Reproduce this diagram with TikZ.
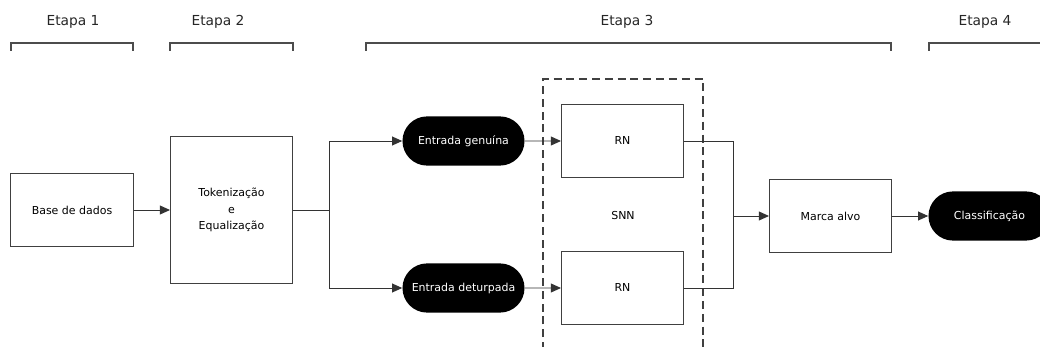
\documentclass[tikz,border=0pt]{standalone}
\usepackage{fontspec}
\setmainfont{DejaVu Sans}
\usepackage{tikz}
\usetikzlibrary{positioning,arrows.meta,shapes.misc}

\begin{document}
\begin{tikzpicture}[x=0.025cm, y=-0.025cm,
  blockbox/.style = {draw = black!75, line width = 0.7pt, shape = rectangle, minimum width = 3.05cm, minimum height = 1.83cm, inner sep = 0pt, font = \fontsize{7.8}{12}\selectfont},
  pillbox/.style = {fill = black, text = white, shape = rounded rectangle, minimum width = 3.05cm, minimum height = 1.23cm, inner sep = 0pt, font = \fontsize{7.8}{12}\selectfont},
  stagelabel/.style = {font = \fontsize{9.8}{11}\selectfont, text = black!85},
  stagebrace/.style = {draw = black!70, line width = 0.9pt},
  flow/.style = {draw = black!80, line width = 0.7pt},
  flowarrow/.style = {flow, -{Triangle[length = 0.25cm, width = 0.22cm]}}]
\useasboundingbox (0,0) rectangle (1040,347);

% etapas
\node[stagelabel] (e1) at (73,22) {Etapa 1};
\node[stagelabel] (e2) at (218,22) {Etapa 2};
\node[stagelabel] (e3) at (627,22) {Etapa 3};
\node[stagelabel] (e4) at (985,22) {Etapa 4};
\draw[stagebrace] (11,51) -- (11,43) -- (133,43) -- (133,51);
\draw[stagebrace] (170,51) -- (170,43) -- (293,43) -- (293,51);
\draw[stagebrace] (366,51) -- (366,43) -- (891,43) -- (891,51);
\draw[stagebrace] (929,51) -- (929,43) -- (1045,43);

% blocos
\node[blockbox] (1) at (72,210) {Base de dados};
\node[blockbox, minimum height = 3.65cm, align = center] (2) at (231.5,210) {Tokenização\\e\\Equalização};
\node[pillbox] (3) at (463.5,141) {Entrada genuína};
\node[pillbox] (4) at (463.5,288) {Entrada deturpada};
\node[blockbox] (5) at (622.5,141) {RN};
\node[blockbox] (6) at (622.5,288) {RN};
\node[blockbox] (7) at (830.5,216) {Marca alvo};
\node[pillbox] (8) at (989.5,216) {Classificação};

% SNN
\draw[dashed, dash pattern = on 0.2cm off 0.12cm, line width = 1.1pt, draw = black!75] (543,350) -- (543,79) -- (703,79) -- (703,350);
\node[font = \fontsize{7.8}{12}\selectfont] (snn) at (623,216) {SNN};

% ligacoes
\coordinate (j1) at (329,210);
\coordinate (j2) at (733,216);
\draw[flowarrow] (1) -- (2);
\draw[flow] (2) -- (j1);
\draw[flowarrow] (j1) |- (3);
\draw[flowarrow] (j1) |- (4);
\draw[flowarrow] (3) -- (5);
\draw[flowarrow] (4) -- (6);
\draw[flow] (5.east) -| (j2);
\draw[flow] (6.east) -| (j2);
\draw[flowarrow] (j2) -- (7);
\draw[flowarrow] (7) -- (8);
\end{tikzpicture}
\end{document}
